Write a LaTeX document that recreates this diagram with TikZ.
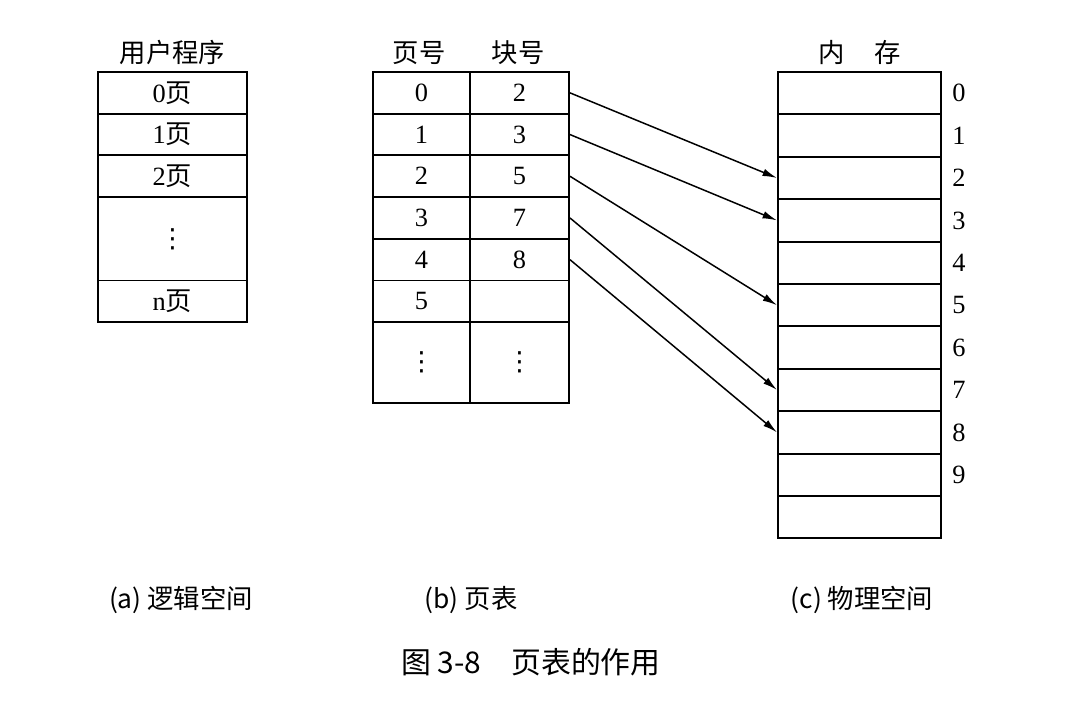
\documentclass[tikz,border=0pt]{standalone}
\usepackage{fontspec}
\setmainfont{Liberation Serif}
\newfontfamily\cjk{Noto Sans CJK SC}
\newfontfamily\dotsfont{DejaVu Sans}
\usetikzlibrary{arrows.meta}

\begin{document}
\begin{tikzpicture}[scale=0.2]
\tikzstyle{every node}+=[inner sep=0pt, font=\fontsize{15}{17}\selectfont]
\tikzstyle{cell}=[draw, line width=1.1pt, minimum height=0.834cm]
\tikzstyle{memcell}=[draw, line width=1.1pt, minimum width=3.26cm, minimum height=0.848cm]
\tikzstyle{link}=[-{Latex[length=2.9mm,width=1.5mm]}, line width=0.85pt]
\useasboundingbox (0,0) rectangle (109,-70.5);
% (a) user program
\node (proghead) at (17.25,-5.2) {\cjk 用户程序};
\node [cell, minimum width=2.98cm] (p0) at (17.25,-9.285) {0{\cjk 页}};
\node [cell, minimum width=2.98cm] (p1) at (17.25,-13.455) {1{\cjk 页}};
\node [cell, minimum width=2.98cm] (p2) at (17.25,-17.625) {2{\cjk 页}};
\node [cell, minimum width=2.98cm, minimum height=1.668cm] (pdots) at (17.25,-23.88) {\dotsfont ⋮};
\node [cell, minimum width=2.98cm] (pn) at (17.25,-30.135) {n{\cjk 页}};
% (b) page table
\node (pagehead) at (41.9,-5.3) {\cjk 页号};
\node (blockhead) at (51.8,-5.3) {\cjk 块号};
\node [cell, minimum width=1.94cm] (pg0) at (42.15,-9.285) {0};
\node [cell, minimum width=1.98cm] (bk0) at (51.95,-9.285) {2};
\node [cell, minimum width=1.94cm] (pg1) at (42.15,-13.455) {1};
\node [cell, minimum width=1.98cm] (bk1) at (51.95,-13.455) {3};
\node [cell, minimum width=1.94cm] (pg2) at (42.15,-17.625) {2};
\node [cell, minimum width=1.98cm] (bk2) at (51.95,-17.625) {5};
\node [cell, minimum width=1.94cm] (pg3) at (42.15,-21.795) {3};
\node [cell, minimum width=1.98cm] (bk3) at (51.95,-21.795) {7};
\node [cell, minimum width=1.94cm] (pg4) at (42.15,-25.965) {4};
\node [cell, minimum width=1.98cm] (bk4) at (51.95,-25.965) {8};
\node [cell, minimum width=1.94cm] (pg5) at (42.15,-30.135) {5};
\node [cell, minimum width=1.98cm] (bk5) at (51.95,-30.135) {};
\node [cell, minimum width=1.94cm, minimum height=1.62cm] (pgdots) at (42.15,-36.25) {\dotsfont ⋮};
\node [cell, minimum width=1.98cm, minimum height=1.62cm] (bkdots) at (51.95,-36.25) {\dotsfont ⋮};
% (c) physical memory
\node (memhead) at (85.95,-5.3) {\cjk 内\hspace{1.1em}存};
\node [memcell] (m0) at (85.95,-9.32) {};
\node [memcell] (m1) at (85.95,-13.56) {};
\node [memcell] (m2) at (85.95,-17.80) {};
\node [memcell] (m3) at (85.95,-22.04) {};
\node [memcell] (m4) at (85.95,-26.28) {};
\node [memcell] (m5) at (85.95,-30.52) {};
\node [memcell] (m6) at (85.95,-34.76) {};
\node [memcell] (m7) at (85.95,-39.00) {};
\node [memcell] (m8) at (85.95,-43.24) {};
\node [memcell] (m9) at (85.95,-47.48) {};
\node [memcell] (m10) at (85.95,-51.72) {};
\node (n0) at (95.9,-9.32) {0};
\node (n1) at (95.9,-13.56) {1};
\node (n2) at (95.9,-17.80) {2};
\node (n3) at (95.9,-22.04) {3};
\node (n4) at (95.9,-26.28) {4};
\node (n5) at (95.9,-30.52) {5};
\node (n6) at (95.9,-34.76) {6};
\node (n7) at (95.9,-39.00) {7};
\node (n8) at (95.9,-43.24) {8};
\node (n9) at (95.9,-47.48) {9};
% mapping arrows
\draw [link] (bk0.east) -- (m2.west);
\draw [link] (bk1.east) -- (m3.west);
\draw [link] (bk2.east) -- (m5.west);
\draw [link] (bk3.east) -- (m7.west);
\draw [link] (bk4.east) -- (m8.west);
% captions
\node (capa) at (18.1,-60) {\cjk (a) 逻辑空间};
\node (capb) at (47.1,-60) {\cjk (b) 页表};
\node (capc) at (86.2,-60) {\cjk (c) 物理空间};
\node (title) at (53.1,-66.2) {\fontsize{17}{19}\selectfont\cjk 图 3-8\quad 页表的作用};
\end{tikzpicture}
\end{document}
